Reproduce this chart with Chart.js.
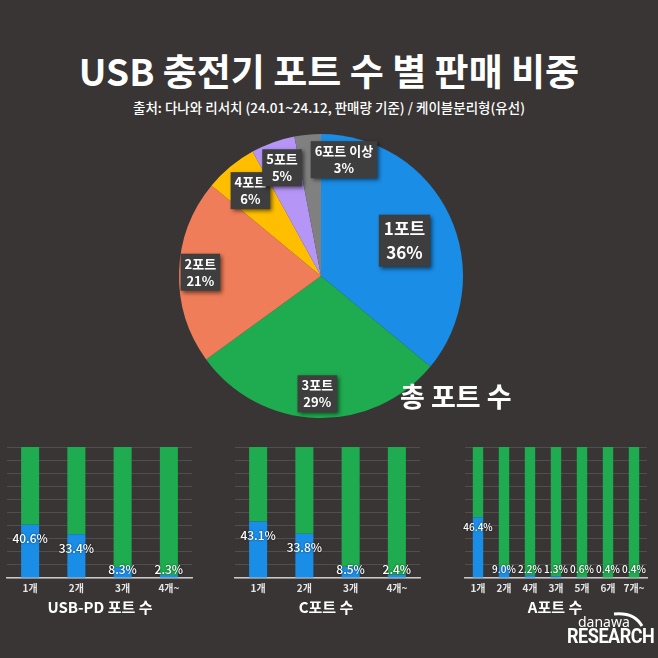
<!DOCTYPE html>
<html>
<head>
<meta charset="utf-8">
<script src="https://cdn.jsdelivr.net/npm/chart.js@4"></script>
<style>
  body { margin: 0; width: 658px; height: 658px; background: #383534; position: relative; overflow: hidden;
         font-family: "Noto Sans CJK KR", "Noto Sans", sans-serif; color: #fff; }
  .txt { position: absolute; white-space: nowrap; font-weight: 700; }
  .box { position: absolute; }
</style>
</head>
<body>

<div class="txt" id="title" style="left:0;width:658px;text-align:center;top:43px;font-size:37px;">USB 충전기 포트 수 별 판매 비중</div>
<div class="txt" id="sub" style="left:0;width:658px;text-align:center;top:97px;font-size:13.5px;font-weight:500;">출처: 다나와 리서치 (24.01~24.12, 판매량 기준) / 케이블분리형(유선)</div>

<div class="box" style="left:171px;top:126px;width:300px;height:300px;"><canvas id="pie"></canvas></div>
<div class="txt" style="left:400px;top:376px;font-size:27px;">총 포트 수</div>

<div class="box" style="left:0px;top:440px;width:200px;height:166px;"><canvas id="pd"></canvas></div>
<div class="box" style="left:228px;top:440px;width:200px;height:166px;"><canvas id="cport"></canvas></div>
<div class="box" style="left:458px;top:440px;width:200px;height:166px;"><canvas id="aport"></canvas></div>

<div class="txt" style="left:0;width:200px;text-align:center;top:596px;font-size:15px;">USB-PD 포트 수</div>
<div class="txt" style="left:226px;width:200px;text-align:center;top:596px;font-size:15px;">C포트 수</div>
<div class="txt" style="left:455px;width:200px;text-align:center;top:596px;font-size:15px;">A포트 수</div>

<!-- logo -->
<div class="txt" style="left:578px;top:612px;font-size:14px;font-weight:400;font-family:'Noto Sans';">danawa</div>
<svg style="position:absolute;left:612px;top:610px;" width="34" height="20"><path d="M2 4 Q22 2 30 16" stroke="#fff" stroke-width="3" fill="none"/></svg>
<div class="txt" style="left:567px;top:624px;font-size:20px;font-family:'Roboto';letter-spacing:-0.5px;transform:scaleX(0.9);transform-origin:left;">RESEARCH</div>

<script>
// pie: total port count share
const pieLabels = ["1포트", "3포트", "2포트", "4포트", "5포트", "6포트 이상"];
const pieValues = [36, 29, 21, 6, 5, 3];
const pieColors = ["#1a8de6", "#1fab4f", "#ef7d59", "#ffbf00", "#b596f6", "#808080"];

// bar charts: share of products (blue) vs the rest (green)
const pdTicks = ["1개", "2개", "3개", "4개~"];
const pdShare = [40.6, 33.4, 8.3, 2.3];
const pdRest  = [59.4, 66.6, 91.7, 97.7];

const cTicks = ["1개", "2개", "3개", "4개~"];
const cShare = [43.1, 33.8, 8.5, 2.4];
const cRest  = [56.9, 66.2, 91.5, 97.6];

const aTicks = ["1개", "2개", "4개", "3개", "5개", "6개", "7개~"];
const aShare = [46.4, 9.0, 2.2, 1.3, 0.6, 0.4, 0.4];
const aRest  = [53.6, 91.0, 97.8, 98.7, 99.4, 99.6, 99.6];

const FONT = "'Noto Sans CJK KR', 'Noto Sans', sans-serif";
Chart.defaults.animation = false;
Chart.defaults.font.family = FONT;

// label boxes on the pie
const pieLabelPlugin = {
    id: "pieBoxes",
    afterDatasetsDraw(chart) {
        const ctx = chart.ctx;
        const radF = [0.65, 0.83, 0.85, 0.78, 0.81, 0.83]; // how far out each box sits
        const shift = [[0,4], [0,0], [0,0], [0,0], [0,0], [34,1]];
        chart.getDatasetMeta(0).data.forEach((arc, i) => {
            const mid = (arc.startAngle + arc.endAngle) / 2;
            const r = arc.outerRadius * radF[i];
            const cx = arc.x + Math.cos(mid) * r + shift[i][0];
            const cy = arc.y + Math.sin(mid) * r + shift[i][1];
            const big = i === 0;
            const fs = big ? 17 : 13;
            const lh = big ? 24 : 17;
            const lines = [pieLabels[i], pieValues[i] + "%"];
            ctx.save();
            ctx.font = "700 " + fs + "px " + FONT;
            let w = 0;
            lines.forEach(t => { w = Math.max(w, ctx.measureText(t).width); });
            w += big ? 10 : 8;
            const h = lines.length * lh + (big ? 4 : 3);
            ctx.shadowColor = "rgba(0,0,0,0.55)";
            ctx.shadowBlur = 4;
            ctx.shadowOffsetX = 2;
            ctx.shadowOffsetY = 2;
            ctx.fillStyle = "#3e3e3e";
            ctx.fillRect(cx - w / 2, cy - h / 2, w, h);
            ctx.shadowColor = "transparent";
            ctx.fillStyle = "#fff";
            ctx.textAlign = "center";
            ctx.textBaseline = "middle";
            lines.forEach((t, k) => {
                ctx.fillText(t, cx, cy - h / 2 + (big ? 2 : 1.5) + lh * (k + 0.5));
            });
            ctx.restore();
        });
    }
};

new Chart("pie", {
    type: "pie",
    data: {
        labels: pieLabels,
        datasets: [{ data: pieValues, backgroundColor: pieColors, borderWidth: 0 }]
    },
    options: {
        responsive: true,
        maintainAspectRatio: false,
        layout: { padding: 8 },
        plugins: { legend: { display: false }, tooltip: { enabled: false } }
    },
    plugins: [pieLabelPlugin]
});

function makeBars(id, ticks, share, rest, o) {
    const valuePlugin = {
        id: "vals_" + id,
        afterDatasetsDraw(chart) {
            const ctx = chart.ctx;
            const base = chart.scales.y.getPixelForValue(0);
            ctx.save();
            ctx.font = "500 " + o.fs + "px " + FONT;
            ctx.textAlign = "center";
            ctx.textBaseline = "middle";
            ctx.fillStyle = "#fff";
            ctx.shadowColor = "rgba(0,0,0,0.7)";
            ctx.shadowBlur = 2;
            chart.getDatasetMeta(0).data.forEach((bar, i) => {
                const y = Math.min(bar.y + o.off, base - 9);
                ctx.fillText(share[i].toFixed(1) + "%", bar.x, y);
            });
            ctx.restore();
        }
    };
    new Chart(id, {
        type: "bar",
        data: {
            labels: ticks,
            datasets: [
                { data: share, backgroundColor: "#1a8de6", borderWidth: 0 },
                { data: rest, backgroundColor: "#1fab4f", borderWidth: 0 }
            ]
        },
        options: {
            responsive: true,
            maintainAspectRatio: false,
            layout: { padding: { left: 7, right: o.right, top: 7, bottom: 8 } },
            datasets: { bar: { categoryPercentage: 1, barPercentage: o.bp } },
            plugins: { legend: { display: false }, tooltip: { enabled: false } },
            scales: {
                x: {
                    stacked: true,
                    grid: { display: false, drawTicks: false },
                    border: { color: "#c8c8c8", width: 1.5 },
                    ticks: { color: "#e6e6e6", padding: 4, autoSkip: false, maxRotation: 0, minRotation: 0,
                             font: { size: 10, weight: "700" } }
                },
                y: {
                    stacked: true,
                    min: 0, max: 100,
                    border: { display: false },
                    grid: { color: "rgba(255,255,255,0.13)", drawTicks: false },
                    ticks: { display: false, stepSize: 10 }
                }
            }
        },
        plugins: [valuePlugin]
    });
}

makeBars("pd", pdTicks, pdShare, pdRest, { right: 8, bp: 0.39, fs: 12, off: 14 });
makeBars("cport", cTicks, cShare, cRest, { right: 8, bp: 0.39, fs: 12, off: 14 });
makeBars("aport", aTicks, aShare, aRest, { right: 11, bp: 0.4, fs: 10, off: 10 });
</script>
</body>
</html>
